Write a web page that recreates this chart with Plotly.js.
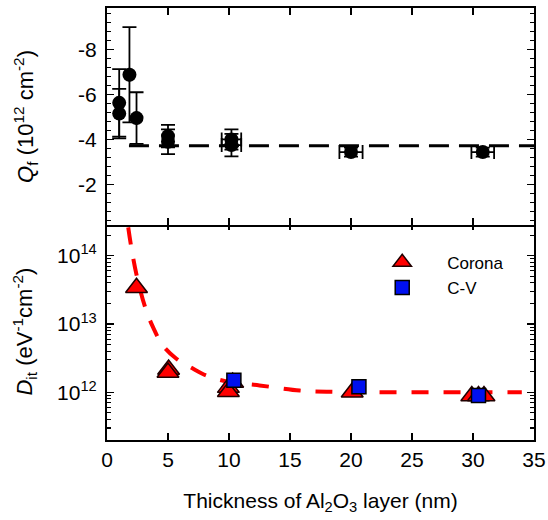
<!DOCTYPE html>
<html>
<head>
<meta charset="utf-8">
<script src="https://cdn.plot.ly/plotly-3.0.1.min.js"></script>
<style>html,body{margin:0;padding:0;background:#fff;}</style>
</head>
<body>
<div id="chart" style="width:548px;height:520px;"></div>
<script>
// ---- Top panel: fixed charge Qf (10^12 cm^-2) ----
const qfThickness = [1.0, 1.0, 1.84, 2.42, 5.0, 5.0, 10.2, 10.2, 20.0, 30.8];
const qfValues    = [-5.63, -5.15, -6.88, -4.95, -4.15, -3.9, -4.0, -3.75, -3.44, -3.44];
const qfErrY      = [1.5, 1.1, 2.12, 1.15, 0.5, 0.55, 0.45, 0.5, 0.2, 0.2];
const qfErrX      = [0, 0, 0, 0, 0, 0, 0.8, 0.8, 0.95, 0.93];
const qfFitX = [1.8, 35];
const qfFitY = [-3.72, -3.72];

// ---- Bottom panel: interface trap density Dit ----
const coronaThickness = [2.42, 5.05, 5.0, 10.3, 9.95, 9.95, 20.1, 29.9, 30.45, 30.9];
const coronaDit       = [3.4e13, 2.16e12, 1.95e12, 1.39e12, 1.17e12, 1.02e12, 1.0e12, 0.88e12, 0.88e12, 0.88e12];
const cvThickness = [10.4, 20.65, 30.45];
const cvDit       = [1.5e12, 1.2e12, 0.9e12];
const ditFitX = [1.74, 2.0, 2.47, 3.18, 3.78, 4.6, 5.69, 7.0, 8.19, 10.0, 12.5, 15.8, 18.0, 22.0, 26.0, 30.0, 34.0];
const ditFitY = [2.6e14, 1.3e14, 4.8e13, 1.65e13, 8.9e12, 4.8e12, 3.1e12, 2.24e12, 1.74e12, 1.42e12, 1.26e12, 1.06e12, 1.02e12, 1.0e12, 1.0e12, 1.0e12, 1.0e12];

// ---- Ticks ----
const xTicks = [0, 5, 10, 15, 20, 25, 30, 35];
const qfTicks = [-8, -6, -4, -2];
const qfTickText = ['-8', '-6', '-4', '-2'];
const ditTicks = [1e12, 1e13, 1e14];
const ditTickText = ['10<sup>12</sup>', '10<sup>13</sup>', '10<sup>14</sup>'];
const ditDecades = [1e11, 1e12, 1e13, 1e14];
const ditMinorMult = [2, 3, 4, 5, 6, 7, 8, 9];
const ditMinor = [];
ditDecades.forEach(d => ditMinorMult.forEach(m => ditMinor.push(d * m)));

const FONT = 'Liberation Sans, Arial, sans-serif';

const traces = [
  {
    x: qfFitX, y: qfFitY, xaxis: 'x2', yaxis: 'y2', mode: 'lines',
    line: {color: '#000', width: 3, dash: '20px,10px'}, showlegend: false, hoverinfo: 'skip'
  },
  {
    x: qfThickness, y: qfValues, xaxis: 'x2', yaxis: 'y2', mode: 'markers',
    marker: {symbol: 'circle', size: 14, color: '#000'},
    error_y: {type: 'data', array: qfErrY, visible: true, color: '#000', thickness: 1.8, width: 7},
    error_x: {type: 'data', array: qfErrX, visible: true, color: '#000', thickness: 1.8, width: 7},
    showlegend: false
  },
  {
    x: ditFitX, y: ditFitY, xaxis: 'x', yaxis: 'y', mode: 'lines',
    line: {color: '#ff0000', width: 4, dash: '17px,15px', shape: 'spline', smoothing: 1},
    showlegend: false, hoverinfo: 'skip'
  },
  {
    x: coronaThickness, y: coronaDit, xaxis: 'x', yaxis: 'y', mode: 'markers', name: 'Corona',
    marker: {symbol: 'triangle-up', size: 19, color: '#ff0000', line: {color: '#200000', width: 1.5}}
  },
  {
    x: cvThickness, y: cvDit, xaxis: 'x', yaxis: 'y', mode: 'markers', name: 'C-V',
    marker: {symbol: 'square', size: 14, color: '#0010f0', line: {color: '#000', width: 1.5}}
  }
];

const axisCommon = {
  ticks: 'inside', ticklen: 7, tickwidth: 1.5, tickcolor: '#000',
  showline: true, linewidth: 2, linecolor: '#000', mirror: 'ticks',
  showgrid: false, zeroline: false
};

const layout = {
  width: 548, height: 520,
  margin: {l: 107, r: 14, t: 8, b: 80},
  paper_bgcolor: '#fff', plot_bgcolor: '#fff',
  font: {family: FONT, size: 21, color: '#000'},
  showlegend: true,
  legend: {
    x: 0.586, y: 0.452, xanchor: 'left', yanchor: 'top',
    font: {family: FONT, size: 17, color: '#000'},
    itemwidth: 80, bgcolor: 'rgba(0,0,0,0)', borderwidth: 0
  },
  xaxis: Object.assign({}, axisCommon, {
    domain: [0, 1], anchor: 'y', range: [0, 35], tickmode: 'array', tickvals: xTicks,
    tickfont: {size: 21},
    title: {text: 'Thickness of Al<sub>2</sub>O<sub>3</sub> layer (nm)', font: {size: 21}, standoff: 23}
  }),
  xaxis2: Object.assign({}, axisCommon, {
    domain: [0, 1], anchor: 'y2', matches: 'x', range: [0, 35], tickmode: 'array', tickvals: xTicks,
    showticklabels: false
  }),
  yaxis: Object.assign({}, axisCommon, {
    domain: [0, 0.502], anchor: 'x', type: 'log', range: [11.301, 14.477],
    tickmode: 'array', tickvals: ditTicks, ticktext: ditTickText, tickfont: {size: 21},
    ticklabelstandoff: 4,
    minor: {tickmode: 'array', tickvals: ditMinor, ticks: 'inside', ticklen: 4, tickwidth: 1.2, tickcolor: '#000'},
    title: {text: '<i>D</i><sub>it</sub> (eV<sup>-1</sup>cm<sup>-2</sup>)', font: {size: 22}, standoff: 18}
  }),
  yaxis2: Object.assign({}, axisCommon, {
    domain: [0.498, 1], anchor: 'x2', range: [-0.2, -9.85],
    tickmode: 'array', tickvals: qfTicks, ticktext: qfTickText, tickfont: {size: 21},
    ticklabelstandoff: 4,
    minor: {tickmode: 'linear', tick0: 0, dtick: 0.4, ticks: 'inside', ticklen: 4, tickwidth: 1.2, tickcolor: '#000'},
    title: {text: '<i>Q</i><sub>f</sub> (10<sup>12</sup> cm<sup>-2</sup>)', font: {size: 22}, standoff: 38}
  })
};

Plotly.newPlot('chart', traces, layout, {staticPlot: true, displayModeBar: false});
</script>
</body>
</html>
